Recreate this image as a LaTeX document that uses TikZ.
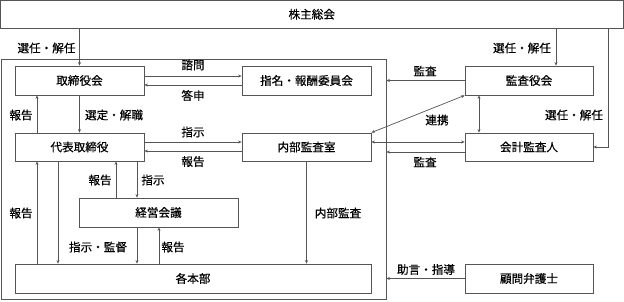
\documentclass[tikz,border=0pt]{standalone}
\usepackage{fontspec}
\setmainfont{Noto Sans CJK JP}[FakeBold=0.4]
\usetikzlibrary{arrows.meta,calc}
\definecolor{lineg}{HTML}{555555}
\begin{document}
\begin{tikzpicture}[x=1pt,y=-1pt,
  box/.style={draw=lineg,line width=0.8pt,rectangle,inner sep=0pt,font=\fontsize{11.6}{13}\selectfont},
  lbl/.style={inner sep=0pt,font=\fontsize{11.6}{13}\selectfont},
  arr/.style={draw=lineg,line width=0.7pt,-{Stealth[length=3.5pt,width=3pt]}},
  darr/.style={draw=lineg,line width=0.7pt,{Stealth[length=3.5pt,width=3pt]}-{Stealth[length=3.5pt,width=3pt]}}]
\useasboundingbox (0,0) rectangle (624,301);
\fill[white] (0,0) rectangle (624,301);
% container
\node[draw=lineg,line width=0.8pt,rectangle,inner sep=0pt,minimum width=385pt,minimum height=240pt] (group) at (193.5,179) {};
% boxes
\node[box,minimum width=622.5pt,minimum height=28pt] (kabu) at (311.75,14.2) {株主総会};
\node[box,minimum width=129pt,minimum height=29pt] (tori) at (79.5,80.5) {取締役会};
\node[box,minimum width=129pt,minimum height=29pt] (shimei) at (306.5,80.5) {指名・報酬委員会};
\node[box,minimum width=128pt,minimum height=29pt] (kansa) at (529,80.5) {監査役会};
\node[box,minimum width=129pt,minimum height=28pt] (daihyo) at (79.5,147) {代表取締役};
\node[box,minimum width=129pt,minimum height=28pt] (naibu) at (306.5,147) {内部監査室};
\node[box,minimum width=128pt,minimum height=28pt] (kaikei) at (529,147) {会計監査人};
\node[box,minimum width=159pt,minimum height=29pt] (keiei) at (158.5,212.5) {経営会議};
\node[box,minimum width=356pt,minimum height=29pt] (honbu) at (193,278.5) {各本部};
\node[box,minimum width=128pt,minimum height=29pt] (komon) at (529,278.5) {顧問弁護士};
% connectors
\draw[arr] (kabu.south -| tori.north) -- (tori.north);
\draw[arr] ([yshift=4.5pt]tori.east) -- ([yshift=4.5pt]shimei.west);
\draw[arr] ([yshift=-4.5pt]shimei.west) -- ([yshift=-4.5pt]tori.east);
\draw[arr] (tori.south) -- (daihyo.north);
\draw[arr] ([xshift=-42.5pt]daihyo.north) -- ([xshift=-42.5pt]tori.south);
\draw[arr] ([yshift=5pt]daihyo.east) -- ([yshift=5pt]naibu.west);
\draw[arr] ([yshift=-4pt]naibu.west) -- ([yshift=-4pt]daihyo.east);
\draw[arr] (kansa.west) -- (kansa.west -| group.east);
\draw[arr] ([yshift=-5pt]kaikei.west) -- ([yshift=-5pt]kaikei.west -| group.east);
\draw[darr] ([yshift=5pt]naibu.east) -- ([yshift=5pt]kaikei.west);
\draw[darr] (naibu.north east) -- (kansa.south west);
\draw[darr] ([xshift=-50pt]kansa.south) -- ([xshift=-50pt]kaikei.north);
\draw[arr] ([xshift=27pt]kansa.north |- kabu.south) -- ([xshift=27pt]kansa.north);
\draw[arr] ([xshift=15pt]kaikei.east |- kabu.south) |- (kaikei.east);
\draw[arr] ([xshift=-42.5pt]keiei.north) -- ([xshift=-42.5pt]keiei.north |- daihyo.south);
\draw[arr] ([xshift=-21.5pt]keiei.north |- daihyo.south) -- ([xshift=-21.5pt]keiei.north);
\draw[arr] ([xshift=-42.5pt]daihyo.south |- honbu.north) -- ([xshift=-42.5pt]daihyo.south);
\draw[arr] ([xshift=-21.5pt]daihyo.south) -- ([xshift=-21.5pt]daihyo.south |- honbu.north);
\draw[arr] ([xshift=-21.5pt]keiei.south) -- ([xshift=-21.5pt]keiei.south |- honbu.north);
\draw[arr] ([xshift=0.5pt]keiei.south |- honbu.north) -- ([xshift=0.5pt]keiei.south);
\draw[arr] (naibu.south) -- (naibu.south |- honbu.north);
\draw[arr] (komon.west) -- (komon.west -| group.east);
% labels
\node[lbl] (l1) at (46.5,48) {選任・解任};
\node[lbl] (l2) at (193,65) {諮問};
\node[lbl] (l3) at (193,95.5) {答申};
\node[lbl] (l4) at (21,115) {報告};
\node[lbl] (l5) at (114,115) {選定・解職};
\node[lbl] (l6) at (193,132) {指示};
\node[lbl] (l7) at (193,161.5) {報告};
\node[lbl] (l8) at (425,71) {監査};
\node[lbl] (l9) at (425,162) {監査};
\node[lbl] (l10) at (437,120) {連携};
\node[lbl] (l11) at (522,48) {選任・解任};
\node[lbl] (l12) at (574,115) {選任・解任};
\node[lbl] (l13) at (100,180) {報告};
\node[lbl] (l14) at (153,180) {指示};
\node[lbl] (l15) at (21,213) {報告};
\node[lbl] (l16) at (98,247) {指示・監督};
\node[lbl] (l17) at (173,247) {報告};
\node[lbl] (l18) at (338,213) {内部監査};
\node[lbl] (l19) at (426,269.5) {助言・指導};
\end{tikzpicture}
\end{document}
